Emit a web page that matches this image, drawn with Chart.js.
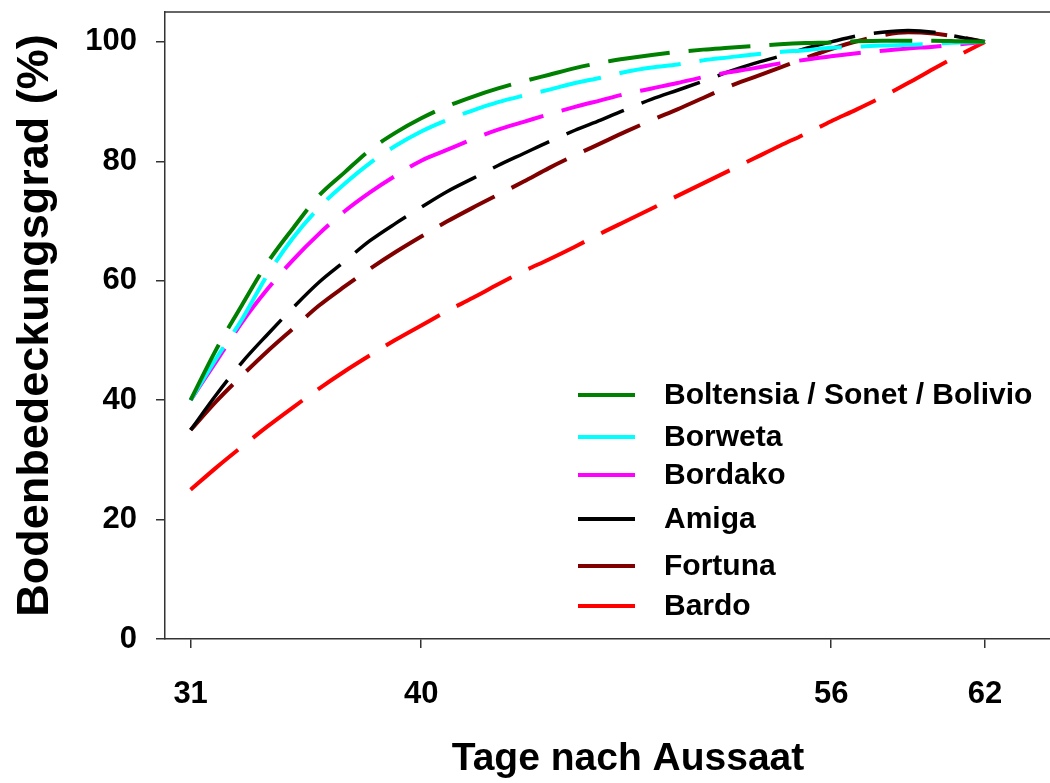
<!DOCTYPE html>
<html>
<head>
<meta charset="utf-8">
<script src="https://cdn.jsdelivr.net/npm/chart.js@4.4.1/dist/chart.umd.min.js"></script>
<style>
  html, body { margin: 0; padding: 0; overflow: hidden; background: #fff; }
  #wrap { position: relative; width: 1100px; height: 783px; }
</style>
</head>
<body>
<div id="wrap"><canvas id="chart" width="1100" height="783"></canvas></div>
<script>
// Tage nach Aussaat
const days = [31, 32, 33, 34, 35, 36, 37, 38, 39, 40, 41, 42, 43, 44, 45, 46,
              47, 48, 49, 50, 51, 52, 53, 54, 55, 56, 57, 58, 59, 60, 61, 62];

// Bodenbedeckungsgrad (%) per variety
const boltensia = [40, 48.5, 55.9, 63.0, 68.8, 74.2, 78.1, 81.9, 84.8, 87.2, 89.2, 90.8, 92.2, 93.4, 94.5, 95.6,
                   96.5, 97.2, 97.8, 98.3, 98.7, 99.0, 99.3, 99.6, 99.8, 99.9, 100.1, 100.2, 100.2, 100.2, 100.1, 100];
const borweta   = [40, 47.0, 53.5, 61.0, 67.2, 72.2, 76.2, 79.7, 82.6, 85.0, 86.9, 88.5, 89.9, 91.0, 92.0, 93.1,
                   94.0, 95.0, 95.7, 96.2, 96.9, 97.4, 97.9, 98.3, 98.6, 99.0, 99.2, 99.4, 99.5, 99.7, 99.9, 100];
const bordako   = [40, 46.5, 53.0, 58.6, 63.5, 67.8, 71.6, 74.8, 77.6, 80.1, 81.9, 83.7, 85.3, 86.6, 87.9, 89.1,
                   90.2, 91.3, 92.2, 93.1, 94.1, 94.9, 95.6, 96.4, 97.0, 97.6, 98.1, 98.5, 98.9, 99.2, 99.6, 100];
const amiga     = [35, 40.9, 46.3, 51.0, 55.5, 59.7, 63.2, 66.7, 69.6, 72.3, 74.9, 77.1, 79.3, 81.3, 83.3, 85.2,
                   86.9, 88.7, 90.4, 91.9, 93.4, 95.0, 96.4, 97.6, 98.9, 100.0, 101.0, 101.6, 101.9, 101.6, 100.8, 100];
const fortuna   = [35, 39.8, 44.1, 48.2, 52.0, 55.8, 59.0, 62.0, 64.8, 67.4, 69.9, 72.2, 74.4, 76.6, 78.9, 81.0,
                   83.0, 85.0, 86.9, 88.7, 90.6, 92.5, 94.1, 95.7, 97.3, 98.8, 100.1, 101.1, 101.6, 101.4, 100.8, 100];
const bardo     = [25, 28.7, 32.2, 35.6, 38.8, 41.9, 44.8, 47.5, 50.1, 52.5, 54.9, 57.1, 59.4, 61.6, 63.6, 65.7,
                   67.9, 70.0, 72.1, 74.2, 76.3, 78.4, 80.5, 82.6, 84.6, 86.7, 88.7, 90.8, 93.1, 95.5, 97.8, 100];

const seriesLabels = ['Boltensia / Sonet / Bolivio', 'Borweta', 'Bordako', 'Amiga', 'Fortuna', 'Bardo'];
const seriesValues = [boltensia, borweta, bordako, amiga, fortuna, bardo];
const seriesColors = ['#008000', '#00ffff', '#ff00ff', '#000000', '#800000', '#ff0000'];

const xTicks = [31, 40, 56, 62];
const yTicks = [0, 20, 40, 60, 80, 100];

const FONT = '"Liberation Sans", Arial, sans-serif';

// legend row centres (canvas px)
const legendRowY = [395, 437, 475, 519, 566, 606];

const legendPlugin = {
    id: 'sideLegend',
    afterDatasetsDraw(chart) {
        const ctx = chart.ctx;
        ctx.save();
        ctx.font = 'bold 30px ' + FONT;
        ctx.textBaseline = 'middle';
        ctx.textAlign = 'left';
        chart.data.datasets.forEach((ds, i) => {
            const y = legendRowY[i];
            ctx.strokeStyle = ds.borderColor;
            ctx.lineWidth = 4;
            ctx.setLineDash([]);
            ctx.beginPath();
            ctx.moveTo(578, y);
            ctx.lineTo(635, y);
            ctx.stroke();
            ctx.fillStyle = '#000';
            ctx.fillText(ds.label, 664, y + 1);
        });
        ctx.restore();
    }
};

const framePlugin = {
    id: 'topFrame',
    afterDraw(chart) {
        const {ctx, chartArea} = chart;
        ctx.save();
        ctx.strokeStyle = '#333';
        ctx.lineWidth = 1.5;
        ctx.beginPath();
        ctx.moveTo(chartArea.left, chartArea.top);
        ctx.lineTo(chartArea.right, chartArea.top);
        ctx.stroke();
        ctx.restore();
    }
};

const datasets = seriesLabels.map((label, i) => ({
    label: label,
    data: days.map((d, j) => ({x: d, y: seriesValues[i][j]})),
    borderColor: seriesColors[i],
    backgroundColor: seriesColors[i],
    borderWidth: i === 3 ? 3.5 : 4,
    borderDash: [62, 19],
    pointRadius: 0,
    fill: false,
    cubicInterpolationMode: 'monotone'
}));

new Chart(document.getElementById('chart'), {
    type: 'line',
    data: { datasets: datasets },
    options: {
        responsive: false,
        animation: false,
        devicePixelRatio: 1,
        layout: { padding: { left: 0, top: 12, right: 9, bottom: 0 } },
        plugins: {
            legend: { display: false },
            tooltip: { enabled: false }
        },
        scales: {
            x: {
                type: 'linear',
                min: 30,
                max: 66.14,
                afterFit(scale) { scale.height = 144; },
                afterBuildTicks(scale) { scale.ticks = xTicks.map(v => ({value: v})); },
                grid: { drawOnChartArea: false, drawTicks: true, tickLength: 9, color: '#333', lineWidth: 1.5 },
                border: { color: '#333', width: 1.5 },
                ticks: {
                    padding: 28,
                    color: '#000',
                    font: { family: FONT, size: 31, weight: 'bold' },
                    maxRotation: 0
                },
                title: {
                    display: true,
                    text: 'Tage nach Aussaat',
                    color: '#000',
                    font: { family: FONT, size: 39, weight: 'bold' },
                    padding: { top: 0, bottom: 0 }
                }
            },
            y: {
                min: 0,
                max: 105,
                afterFit(scale) {
                    scale.width = 165;
                    scale.paddingTop = 0;
                    scale.paddingBottom = 0;
                },
                afterBuildTicks(scale) { scale.ticks = yTicks.map(v => ({value: v})); },
                grid: { drawOnChartArea: false, drawTicks: true, tickLength: 9, color: '#333', lineWidth: 1.5 },
                border: { color: '#333', width: 1.5 },
                ticks: {
                    padding: 19,
                    color: '#000',
                    font: { family: FONT, size: 31, weight: 'bold' }
                },
                title: {
                    display: true,
                    text: 'Bodenbedeckungsgrad (%)',
                    color: '#000',
                    font: { family: FONT, size: 45, weight: 'bold' },
                    padding: { top: 9, bottom: 0 }
                }
            }
        }
    },
    plugins: [legendPlugin, framePlugin]
});
</script>
</body>
</html>
